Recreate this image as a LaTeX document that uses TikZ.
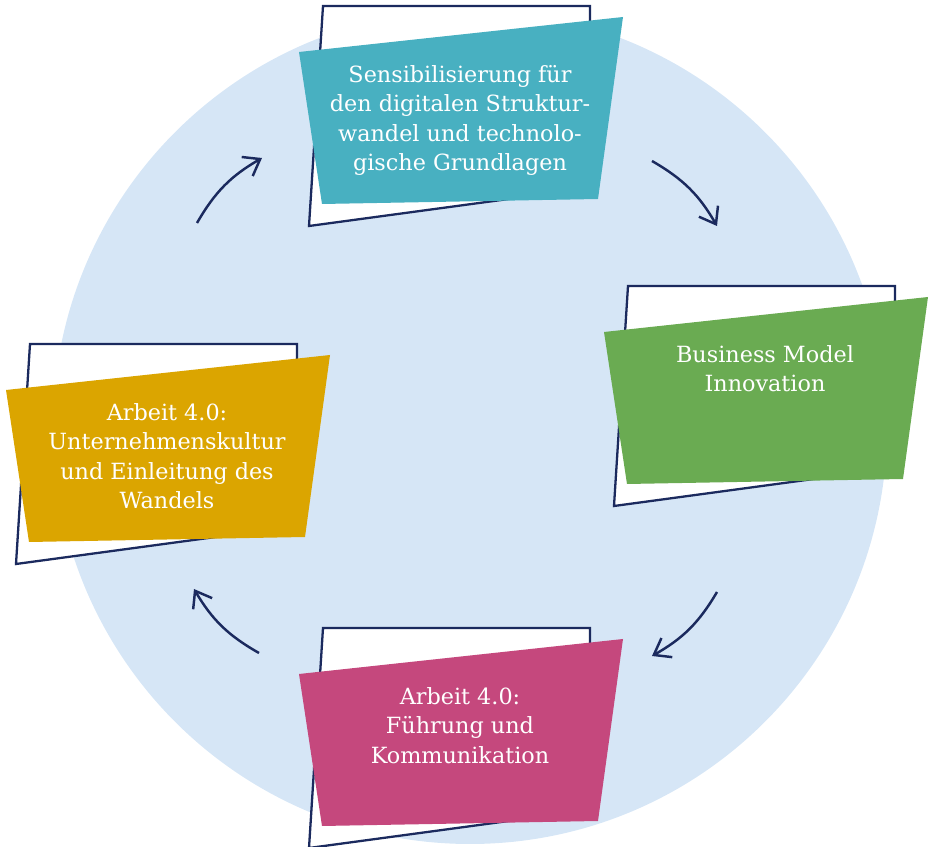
\documentclass[tikz,border=0pt]{standalone}
\usepackage{fontspec}
\setmainfont{DejaVu Serif}
\usetikzlibrary{arrows.meta}
\definecolor{navy}{HTML}{1B2A5E}
\definecolor{disc}{HTML}{D6E6F6}
\definecolor{teal}{HTML}{48B0C1}
\definecolor{leaf}{HTML}{6AAB52}
\definecolor{gold}{HTML}{DBA500}
\definecolor{rose}{HTML}{C5487D}
\tikzstyle{backcard} = [draw=navy, line width=1.3pt, fill=white]
\tikzstyle{label} = [text=white, align=center, anchor=north, inner sep=0pt, font=\fontsize{12.7}{16.8}\selectfont]
\tikzstyle{edge} = [navy, line width=1.4pt, ->, >={Straight Barb[length=3mm, width=4.4mm, line width=1.4pt]}]

\begin{document}
\begin{tikzpicture}[x=0.02cm, y=-0.02cm]
\useasboundingbox (0,0) rectangle (934,847);
\fill[disc] (470,427) circle (417);

\begin{scope}[shift={(299,52)}]
\path[backcard] (24,-46) -- (291,-46) -- (291,136) -- (10,174) -- cycle;
\fill[teal] (0,0) -- (324,-35) -- (299,147) -- (23,152) -- cycle;
\node (sens) [label] at (161,13) {Sensibilisierung für\\den digitalen Struktur-\\wandel und technolo-\\gische Grundlagen};
\end{scope}

\begin{scope}[shift={(604,332)}]
\path[backcard] (24,-46) -- (291,-46) -- (291,136) -- (10,174) -- cycle;
\fill[leaf] (0,0) -- (324,-35) -- (299,147) -- (23,152) -- cycle;
\node (bmi) [label] at (161,13) {Business Model\\Innovation};
\end{scope}

\begin{scope}[shift={(6,390)}]
\path[backcard] (24,-46) -- (291,-46) -- (291,136) -- (10,174) -- cycle;
\fill[gold] (0,0) -- (324,-35) -- (299,147) -- (23,152) -- cycle;
\node (kultur) [label] at (161,13) {Arbeit 4.0:\\Unternehmenskultur\\und Einleitung des\\Wandels};
\end{scope}

\begin{scope}[shift={(299,674)}]
\path[backcard] (24,-46) -- (291,-46) -- (291,136) -- (10,174) -- cycle;
\fill[rose] (0,0) -- (324,-35) -- (299,147) -- (23,152) -- cycle;
\node (fuehrung) [label] at (161,13) {Arbeit 4.0:\\Führung und\\Kommunikation};
\end{scope}

\coordinate (tl1) at (197,223);
\coordinate (tl2) at (262,158);
\coordinate (tr1) at (652,161);
\coordinate (tr2) at (717,226);
\coordinate (br1) at (717,592);
\coordinate (br2) at (652,656);
\coordinate (bl1) at (259,653);
\coordinate (bl2) at (194,589);

\draw [edge] (tl1) to[bend left=15] (tl2);
\draw [edge] (tr1) to[bend left=15] (tr2);
\draw [edge] (br1) to[bend left=15] (br2);
\draw [edge] (bl1) to[bend left=15] (bl2);

\end{tikzpicture}
\end{document}
